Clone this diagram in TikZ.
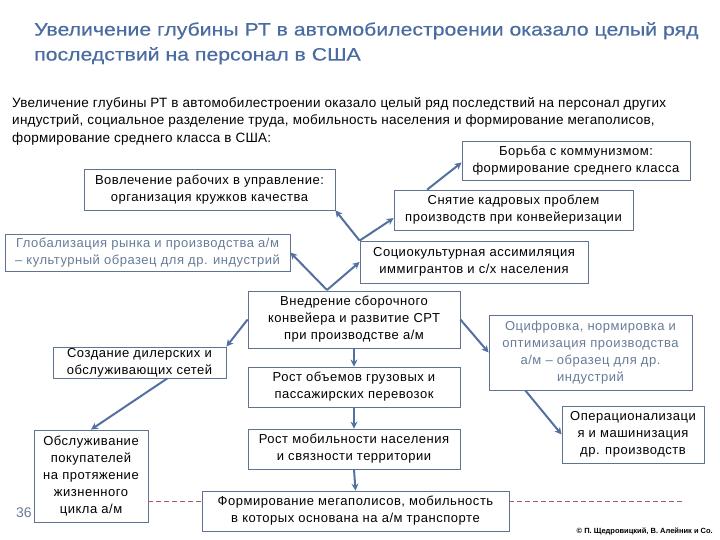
\documentclass[tikz,border=0pt]{standalone}
\usepackage{fontspec}
\setmainfont{Liberation Sans}
\newfontfamily\titlefont[FakeStretch=1.18,FakeBold=0.4]{Liberation Sans}
\newfontfamily\boxfont[LetterSpace=4]{Liberation Sans}
\newfontfamily\introfont[LetterSpace=2]{Liberation Sans}
\usetikzlibrary{calc,arrows.meta}

\definecolor{titleblue}{RGB}{74,108,160}
\definecolor{boxline}{RGB}{96,116,146}
\definecolor{arrowblue}{RGB}{82,112,160}
\definecolor{softtext}{RGB}{104,124,152}
\definecolor{dashred}{RGB}{168,92,92}

\tikzset{
  box/.style={draw=boxline, line width=0.8pt, fill=white, align=center, inner sep=0pt,
              font=\boxfont\fontsize{13}{17}\selectfont},
  arr/.style={draw=arrowblue, line width=2pt, -{Stealth[length=7pt,width=7pt]}},
  dashline/.style={draw=dashred, line width=0.8pt, dash pattern=on 5pt off 3pt}
}

\begin{document}
\begin{tikzpicture}[x=1pt,y=-1pt]

\useasboundingbox (0,0) rectangle (720,540);

% headings
\node[anchor=north west, align=left, inner sep=0pt, text=titleblue,
      font=\titlefont\fontsize{18}{25}\selectfont] (title) at (34,22)
  {Увеличение глубины РТ в автомобилестроении оказало целый ряд\\
   последствий на персонал в США};

\node[anchor=north west, align=left, inner sep=0pt,
      font=\introfont\fontsize{13.5}{17.5}\selectfont] (intro) at (12,97)
  {Увеличение глубины РТ в автомобилестроении оказало целый ряд последствий на персонал других\\
   индустрий, социальное разделение труда, мобильность населения и формирование мегаполисов,\\
   формирование среднего класса в США:};

% boxes
\node[box, minimum width=228pt, minimum height=39pt] (borba) at (576,160.5)
  {Борьба с коммунизмом:\\ формирование среднего класса};
\node[box, minimum width=251pt, minimum height=41pt] (vovl) at (209.5,189.5)
  {Вовлечение рабочих в управление:\\ организация кружков качества};
\node[box, minimum width=239pt, minimum height=40pt] (snyat) at (513.5,210)
  {Снятие кадровых проблем\\ производств при конвейеризации};
\node[box, minimum width=285pt, minimum height=37pt, text=softtext] (glob) at (147.5,252.5)
  {Глобализация рынка и производства а/м\\ – культурный образец для др. индустрий};
\node[box, minimum width=228pt, minimum height=42pt] (socio) at (474,262)
  {Социокультурная ассимиляция\\ иммигрантов и с/х населения};
\node[box, minimum width=212pt, minimum height=57pt] (vnedr) at (354,319.5)
  {Внедрение сборочного\\ конвейера и развитие СРТ\\ при производстве а/м};
\node[box, minimum width=173pt, minimum height=31pt] (sozd) at (139.5,362.5)
  {Создание дилерских и\\ обслуживающих сетей};
\node[box, minimum width=203pt, minimum height=75pt, text=softtext] (ocifr) at (590.5,352.5)
  {Оцифровка, нормировка и\\ оптимизация производства\\ а/м – образец для др.\\ индустрий};
\node[box, minimum width=212pt, minimum height=40pt] (rost1) at (354,387)
  {Рост объемов грузовых и\\ пассажирских перевозок};
\node[box, minimum width=212pt, minimum height=40pt] (rost2) at (354,449)
  {Рост мобильности населения\\ и связности территории};
\node[box, minimum width=142pt, minimum height=57pt] (oper) at (633,434.5)
  {Операционализаци\\ я и машинизация\\ др. производств};
\node[box, minimum width=114pt, minimum height=92pt] (obsl) at (91,476)
  {Обслуживание\\ покупателей\\ на протяжение\\ жизненного\\ цикла а/м};
\node[box, minimum width=307pt, minimum height=40pt] (megap) at (355.5,511)
  {Формирование мегаполисов, мобильность\\ в которых основана на а/м транспорте};

% connectors
\coordinate (vapex) at (327,290);
\draw[arr] (vapex) -- (glob.east);
\draw[arr] (vapex) -- (socio.west);
\draw[arr] (socio.north west) -- (vovl.south east);
\draw[arr] (socio.north west) -- ($(snyat.south west)!0.3!(snyat.north west)$);
\draw[arr] ($(snyat.north west)!0.14!(snyat.north east)$) -- ($(borba.south west)!0.45!(borba.north west)$);
\draw[arr] (vnedr.west) -- (sozd.north east);
\draw[arr] ($(sozd.south west)!0.66!(sozd.south east)$) -- (obsl.north);
\draw[arr] (vnedr.east) -- (ocifr.west);
\draw[arr] ($(ocifr.south west)!0.18!(ocifr.south east)$) -- (oper.west);
\draw[arr] (vnedr.south) -- (rost1.north);
\draw[arr] (rost1.south) -- (rost2.north);
\draw[arr] (rost2.south) -- (megap.north);

\coordinate (dashend) at (685,501);
\draw[dashline] (obsl.east |- dashend) -- (megap.west |- dashend);
\draw[dashline] (megap.east |- dashend) -- (dashend);

% footer
\node[text=softtext, font=\fontsize{14}{16}\selectfont, inner sep=0pt] (pagenum) at (24,513) {36};
\node[anchor=east, inner sep=0pt, font=\bfseries\fontsize{7.5}{8}\selectfont] (copy) at (713,531)
  {© П. Щедровицкий, В. Алейник и Co.};

\end{tikzpicture}
\end{document}
